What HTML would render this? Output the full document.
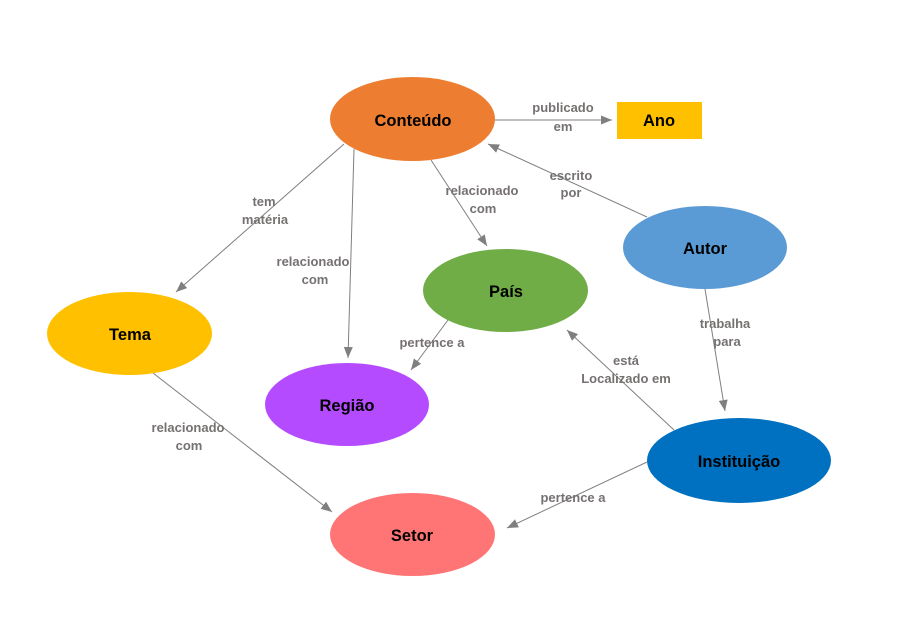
<!DOCTYPE html>
<html>
<head>
<meta charset="utf-8">
<style>
html,body{margin:0;padding:0;background:#fff;}
svg{display:block;}
.n{font-family:"Liberation Sans",sans-serif;font-weight:bold;font-size:16.5px;fill:#000;text-anchor:middle;}
.e{font-family:"Liberation Sans",sans-serif;font-weight:bold;font-size:13px;fill:#767171;text-anchor:middle;}
.l{stroke:#7f7f7f;stroke-width:1;fill:none;marker-end:url(#ah);}
</style>
</head>
<body>
<svg width="917" height="631" viewBox="0 0 917 631" xmlns="http://www.w3.org/2000/svg">
<defs>
<marker id="ah" markerUnits="userSpaceOnUse" markerWidth="11" markerHeight="9" refX="11" refY="4.5" orient="auto">
<path d="M0,0 L11,4.5 L0,9 z" fill="#7f7f7f"/>
</marker>
</defs>

<!-- connectors -->
<line class="l" x1="495" y1="120" x2="612" y2="120"/>
<line class="l" x1="647" y1="217" x2="488" y2="144"/>
<line class="l" x1="344" y1="144" x2="176" y2="292"/>
<line class="l" x1="354" y1="149" x2="348" y2="358"/>
<line class="l" x1="431" y1="160" x2="487" y2="246"/>
<line class="l" x1="448" y1="320" x2="411" y2="370"/>
<line class="l" x1="705" y1="289" x2="725" y2="411"/>
<line class="l" x1="674" y1="430" x2="567" y2="330"/>
<line class="l" x1="647" y1="462" x2="507" y2="528"/>
<line class="l" x1="153" y1="373" x2="332" y2="512"/>

<!-- nodes -->
<ellipse cx="412.5" cy="119" rx="82.5" ry="42" fill="#ED7D31"/>
<rect x="617" y="102" width="85" height="37" fill="#FFC000"/>
<ellipse cx="705" cy="247.5" rx="82" ry="41.5" fill="#5B9BD5"/>
<ellipse cx="129.5" cy="333.5" rx="82.5" ry="41.5" fill="#FFC000"/>
<ellipse cx="505.5" cy="290.5" rx="82.5" ry="41.5" fill="#70AD47"/>
<ellipse cx="347" cy="404.5" rx="82" ry="41.5" fill="#B44BFF"/>
<ellipse cx="739" cy="460.5" rx="92" ry="42.5" fill="#0070C0"/>
<ellipse cx="412.5" cy="534.5" rx="82.5" ry="41.5" fill="#FF7575"/>

<!-- node labels -->
<text class="n" x="413" y="126">Conteúdo</text>
<text class="n" x="659" y="126">Ano</text>
<text class="n" x="705" y="254">Autor</text>
<text class="n" x="130" y="340">Tema</text>
<text class="n" x="506" y="297">País</text>
<text class="n" x="347" y="411">Região</text>
<text class="n" x="739" y="467">Instituição</text>
<text class="n" x="412" y="541">Setor</text>

<!-- edge labels -->
<text class="e" x="563" y="112">publicado</text>
<text class="e" x="563" y="131">em</text>
<text class="e" x="571" y="180">escrito</text>
<text class="e" x="571" y="197">por</text>
<text class="e" x="264" y="206">tem</text>
<text class="e" x="265" y="224">matéria</text>
<text class="e" x="313" y="266">relacionado</text>
<text class="e" x="315" y="284">com</text>
<text class="e" x="482" y="195">relacionado</text>
<text class="e" x="483" y="213">com</text>
<text class="e" x="432" y="347">pertence a</text>
<text class="e" x="725" y="328">trabalha</text>
<text class="e" x="727" y="346">para</text>
<text class="e" x="626" y="365">está</text>
<text class="e" x="626" y="383">Localizado em</text>
<text class="e" x="573" y="502">pertence a</text>
<text class="e" x="188" y="432">relacionado</text>
<text class="e" x="189" y="450">com</text>
</svg>
</body>
</html>
